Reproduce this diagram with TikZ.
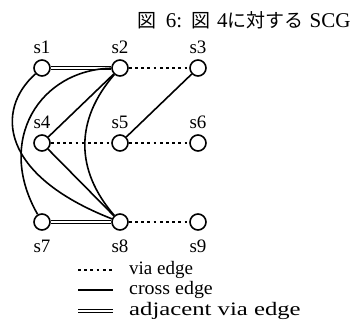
\documentclass[tikz,border=0pt]{standalone}
\usepackage{fontspec}
\setmainfont{Liberation Serif}
\newfontfamily\cjk{Noto Sans CJK JP}
\begin{document}
\begin{tikzpicture}[x=1pt, y=-1pt,
        station/.style={circle, draw, line width=1.6pt, minimum size=16pt, inner sep=0pt, fill=white},
        via/.style={line width=2.6pt, dash pattern=on 2.8pt off 3.4pt},
        cross/.style={line width=1.6pt},
        adjvia/.style={double, line width=1.2pt, double distance=1.6pt},
        lbl/.style={font=\fontsize{19}{19}\selectfont, inner sep=1pt},
        legend text/.style={anchor=west, font=\fontsize{19}{19}\selectfont, inner sep=0pt}]
        \useasboundingbox (0,0) rectangle (362,330);

        \node[anchor=east, font=\fontsize{21}{21}\selectfont] (title) at (354,20)
            {{\cjk\fontsize{19}{19}\selectfont 図}\hspace{9pt}6:\hspace{9pt}{\cjk\fontsize{19}{19}\selectfont 図}\hspace{7pt}4{\cjk\fontsize{19}{19}\selectfont に対する}\hspace{6pt}SCG};

        \node[station, label={[lbl, label distance=4pt]above:s1}] (s1) at (42,68) {};
        \node[station, label={[lbl, label distance=4pt]above:s2}] (s2) at (120,68) {};
        \node[station, label={[lbl, label distance=4pt]above:s3}] (s3) at (198,68) {};
        \node[station, label={[lbl, label distance=4pt]above:s4}] (s4) at (42,143) {};
        \node[station, label={[lbl, label distance=4pt]above:s5}] (s5) at (120,143) {};
        \node[station, label={[lbl, label distance=4pt]above:s6}] (s6) at (198,143) {};
        \node[station, label={[lbl, label distance=8pt]below:s7}] (s7) at (42,222) {};
        \node[station, label={[lbl, label distance=8pt]below:s8}] (s8) at (120,222) {};
        \node[station, label={[lbl, label distance=8pt]below:s9}] (s9) at (198,222) {};

        \draw[adjvia] (s1) -- (s2);
        \draw[adjvia] (s7) -- (s8);
        \draw[via] (s2) -- (s3);
        \draw[via] (s4) -- (s5);
        \draw[via] (s5) -- (s6);
        \draw[via] (s8) -- (s9);
        \draw[cross] (s3) -- (s5);
        \draw[cross] (s2) -- (s4);
        \draw[cross] (s4) -- (s8);
        \draw[cross] (s1) .. controls (-5,110) and (0,175) .. (s8);
        \draw[cross] (s2) .. controls (40,70) and (-5,140) .. (s7);
        \draw[cross] (s2) .. controls (75,120) and (75,170) .. (s8);

        % legend
        \coordinate (via a) at (78,270);
        \coordinate (via b) at (113,270);
        \coordinate (cross a) at (78,290);
        \coordinate (cross b) at (113,290);
        \coordinate (adjvia a) at (78,311);
        \coordinate (adjvia b) at (113,311);
        \draw[via] (via a) -- (via b);
        \draw[cross] (cross a) -- (cross b);
        \draw[adjvia] (adjvia a) -- (adjvia b);
        \node[legend text] (via text) at (129,270) {via edge};
        \node[legend text] (cross text) at (129,290) {\scalebox{1.05}[1]{cross edge}};
        \node[legend text] (adjvia text) at (129,311) {\scalebox{1.3}[1]{adjacent via edge}};

    \end{tikzpicture}
\end{document}
